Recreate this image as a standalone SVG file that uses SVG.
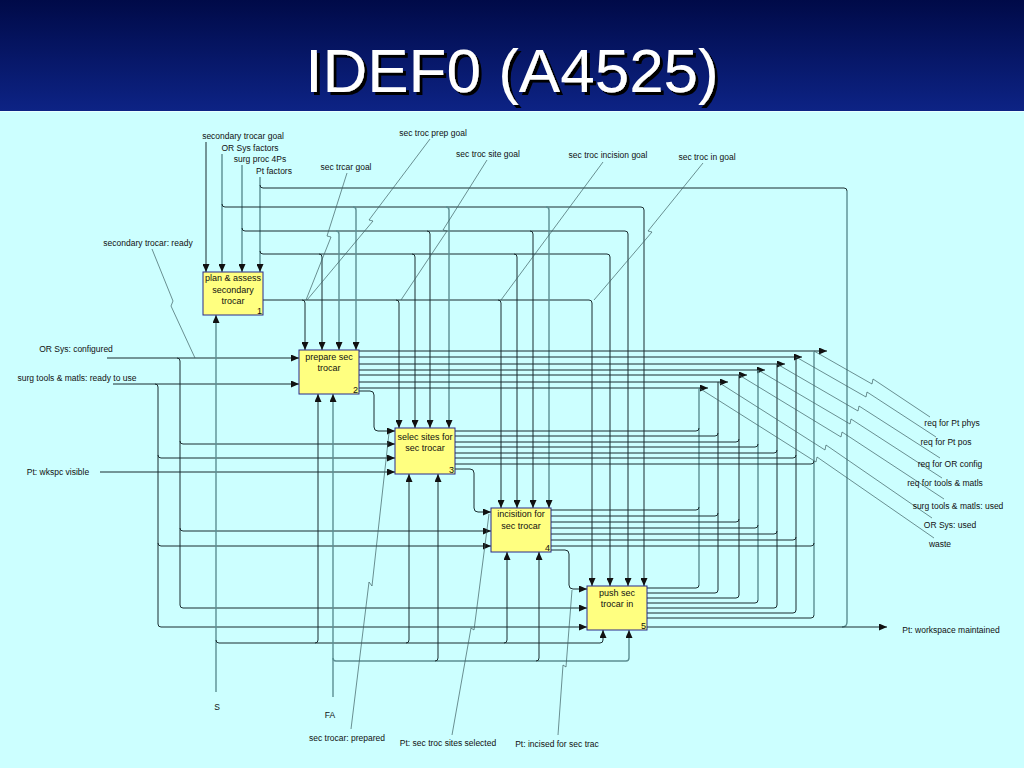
<svg xmlns="http://www.w3.org/2000/svg" width="1024" height="768" viewBox="0 0 1024 768">
<defs>
<linearGradient id="hdr" x1="0" y1="0" x2="0" y2="1">
<stop offset="0" stop-color="#000a48"/>
<stop offset="1" stop-color="#0d2385"/>
</linearGradient>
<filter id="sh" x="-10%" y="-20%" width="120%" height="150%">
<feDropShadow dx="3" dy="3" stdDeviation="0.6" flood-color="#000" flood-opacity="1"/>
</filter>
<marker id="ar" markerUnits="userSpaceOnUse" markerWidth="8" markerHeight="7" refX="8" refY="3.5" orient="auto">
<path d="M0,0 L8,3.5 L0,7 z" fill="#111"/>
</marker>
<style>
.t{font-family:"Liberation Sans",Arial,sans-serif;font-size:8.5px;fill:#111}
.tm{text-anchor:middle}
.bx{fill:#ffff80;stroke:#2a2a8a;stroke-width:1}
.bt{font-family:"Liberation Sans",Arial,sans-serif;font-size:9px;fill:#111;text-anchor:middle}
.bn{font-family:"Liberation Sans",Arial,sans-serif;font-size:9px;fill:#111;text-anchor:end}
.d{fill:none;stroke:#1b2d30;stroke-width:1}
.g{fill:none;stroke:#5b8e92;stroke-width:1.4}
.l{fill:none;stroke:#3d5f62;stroke-width:0.7}
.a{marker-end:url(#ar)}
</style>
</defs>
<rect x="0" y="0" width="1024" height="768" fill="#ccffff"/>
<rect x="0" y="0" width="1024" height="111" fill="url(#hdr)"/>
<line x1="0" y1="111.5" x2="1024" y2="111.5" stroke="#e8ffff" stroke-width="1"/>
<text x="512" y="92" font-family="'Liberation Sans',Arial,sans-serif" font-size="62" fill="#fff" text-anchor="middle" filter="url(#sh)">IDEF0 (A4525)</text>

<g id="connectors">
<path class="d a" d="M206,142 V272"/>
<path class="g a" d="M222,154 V272"/>
<path class="g a" d="M242,165 V272"/>
<path class="g a" d="M260,177 V272"/>
<path class="d" d="M260,185 Q260,188 263,188 H844 Q847,188 847,191"/>
<path class="g" d="M847,191 V622 Q847,627 842,627"/>
<path class="d a" d="M222,204 Q222,207 225,207 H641 Q644,207 644,210 V586"/>
<path class="d a" d="M242,228 Q242,231 245,231 H625 Q628,231 628,234 V586"/>
<path class="d a" d="M260,251 Q260,254 263,254 H607 Q610,254 610,257 V586"/>
<path class="d a" d="M263,300 H589 Q592,300 592,303 V586"/>
<path class="d a" d="M302,300 Q305,300 305,303 V350"/>
<path class="d a" d="M319,254 Q322,254 322,257 V350"/>
<path class="g a" d="M336,231 Q339,231 339,234 V350"/>
<path class="g a" d="M353,207 Q356,207 356,210 V350"/>
<path class="d a" d="M396,300 Q399,300 399,303 V428"/>
<path class="d a" d="M412,254 Q415,254 415,257 V428"/>
<path class="d a" d="M427,231 Q430,231 430,234 V428"/>
<path class="g a" d="M446,207 Q449,207 449,210 V428"/>
<path class="d a" d="M498,300 Q501,300 501,303 V508"/>
<path class="d a" d="M514,254 Q517,254 517,257 V508"/>
<path class="d a" d="M530,231 Q533,231 533,234 V508"/>
<path class="g a" d="M546,207 Q549,207 549,210 V508"/>

<path class="d a" d="M107,358 H299"/>
<path class="d a" d="M177,358 Q180,358 180,361 V605 Q180,608 183,608 H587"/>
<path class="d a" d="M180,441 Q180,444 183,444 H395"/>
<path class="d a" d="M180,528 Q180,531 183,531 H491"/>
<path class="d a" d="M113,384 H299"/>
<path class="d a" d="M155,384 Q158,384 158,387 V624 Q158,627 161,627 H587"/>
<path class="d a" d="M158,455 Q158,458 161,458 H395"/>
<path class="d a" d="M158,543 Q158,546 161,546 H491"/>
<path class="d a" d="M100,472 H395"/>

<path class="d a" d="M359,391 H370 Q374,391 374,395 V427 Q374,431 378,431 H395"/>
<path class="d a" d="M455,469 H470 Q474,469 474,473 V508 Q474,512 478,512 H491"/>
<path class="d a" d="M551,550 H565 Q569,550 569,554 V585 Q569,589 573,589 H587"/>

<path class="g a" d="M216,692 V315"/>
<path class="d a" d="M216,640 Q216,643 219,643 H600 Q603,643 603,640 V630"/>
<path class="d a" d="M315,643 Q318,643 318,640 V394"/>
<path class="d a" d="M406,643 Q409,643 409,640 V474"/>
<path class="d a" d="M504,643 Q507,643 507,640 V552"/>
<path class="g a" d="M333,697 V394"/>
<path class="g a" d="M333,658 Q333,661 336,661 H626 Q629,661 629,658 V630"/>
<path class="d a" d="M435,661 Q438,661 438,658 V474"/>
<path class="d a" d="M536,661 Q539,661 539,658 V552"/>

<path class="d a" d="M359,351 H827"/>
<path class="d a" d="M359,357 H802"/>
<path class="d a" d="M359,364 H785"/>
<path class="d a" d="M359,370 H765"/>
<path class="d a" d="M359,375 H747"/>
<path class="d a" d="M359,382 H728"/>
<path class="d a" d="M359,388 H708"/>
<path class="g" d="M699,388 V585"/>
<path class="d" d="M718,382 V590"/>
<path class="d" d="M739,375 V595"/>
<path class="g" d="M758,370 V600"/>
<path class="d" d="M777,364 V605"/>
<path class="d" d="M796,357 V610"/>
<path class="g" d="M814,351 V615"/>
<path class="d" d="M455,431 H696 Q699,431 699,428"/>
<path class="d" d="M455,436 H715 Q718,436 718,433"/>
<path class="d" d="M455,442 H736 Q739,442 739,439"/>
<path class="d" d="M455,447 H755 Q758,447 758,444"/>
<path class="d" d="M455,453 H774 Q777,453 777,450"/>
<path class="d" d="M455,458 H793 Q796,458 796,455"/>
<path class="d" d="M455,464 H811 Q814,464 814,461"/>
<path class="d" d="M551,510 H696 Q699,510 699,507"/>
<path class="d" d="M551,516 H715 Q718,516 718,513"/>
<path class="d" d="M551,522 H736 Q739,522 739,519"/>
<path class="d" d="M551,528 H755 Q758,528 758,525"/>
<path class="d" d="M551,534 H774 Q777,534 777,531"/>
<path class="d" d="M551,540 H793 Q796,540 796,537"/>
<path class="d" d="M551,546 H811 Q814,546 814,543"/>
<path class="d" d="M647,588 H696 Q699,588 699,585"/>
<path class="d" d="M647,593 H715 Q718,593 718,590"/>
<path class="d" d="M647,598 H736 Q739,598 739,595"/>
<path class="d" d="M647,603 H755 Q758,603 758,600"/>
<path class="d" d="M647,608 H774 Q777,608 777,605"/>
<path class="d" d="M647,613 H793 Q796,613 796,610"/>
<path class="d" d="M647,618 H811 Q814,618 814,615"/>
<path class="d a" d="M647,627 H887"/>

<path class="l" d="M152,249 L173,301 L171,306 L195,358"/>
<path class="l" d="M347,173 L327,236 L331,237 L306,300"/>
<path class="l" d="M430,139 L369,220 L373,221 L307,300"/>
<path class="l" d="M487,160 L443,230 L447,231 L401,300"/>
<path class="l" d="M603,162 L501,300"/>
<path class="l" d="M703,163 L648,231 L652,232 L594,300"/>
<path class="l" d="M814,351 L872,384 L873,379 L930,417"/>
<path class="l" d="M796,357 L866,397 L867,392 L936,437"/>
<path class="l" d="M777,364 L858,411 L859,406 L940,458"/>
<path class="l" d="M758,370 L850,424 L851,419 L942,478"/>
<path class="l" d="M739,375 L841,437 L842,432 L944,499"/>
<path class="l" d="M718,382 L825,450 L826,445 L932,518"/>
<path class="l" d="M699,388 L816,462 L817,457 L934,538"/>
<path class="l" d="M351,729 L369,582 L372,586 L389,433"/>
<path class="l" d="M452,735 L471,628 L474,630 L489,514"/>
<path class="l" d="M558,735 L563,665 L566,667 L572,590"/>
</g>

<g id="node1">
<rect class="bx" x="203" y="272" width="60" height="43"/>
<text class="bt" x="233" y="281">plan &amp; assess</text>
<text class="bt" x="233" y="293">secondary</text>
<text class="bt" x="233" y="304">trocar</text>
<text class="bn" x="262" y="314">1</text>
</g>
<g id="node2">
<rect class="bx" x="299" y="350" width="60" height="44"/>
<text class="bt" x="329" y="360">prepare sec</text>
<text class="bt" x="329" y="371">trocar</text>
<text class="bn" x="358" y="393">2</text>
</g>
<g id="node3">
<rect class="bx" x="395" y="428" width="60" height="46"/>
<text class="bt" x="425" y="440">selec sites for</text>
<text class="bt" x="425" y="451">sec trocar</text>
<text class="bn" x="454" y="473">3</text>
</g>
<g id="node4">
<rect class="bx" x="491" y="508" width="60" height="44"/>
<text class="bt" x="521" y="517">incisition for</text>
<text class="bt" x="521" y="529">sec trocar</text>
<text class="bn" x="550" y="551">4</text>
</g>
<g id="node5">
<rect class="bx" x="587" y="586" width="60" height="44"/>
<text class="bt" x="617" y="596">push sec</text>
<text class="bt" x="617" y="607">trocar in</text>
<text class="bn" x="646" y="629">5</text>
</g>

<g id="labels">
<text class="t tm" x="243" y="139">secondary trocar goal</text>
<text class="t tm" x="250" y="151">OR Sys factors</text>
<text class="t tm" x="260" y="162">surg proc 4Ps</text>
<text class="t tm" x="274" y="174">Pt factors</text>
<text class="t tm" x="346" y="170">sec trcar goal</text>
<text class="t tm" x="433" y="136">sec troc prep goal</text>
<text class="t tm" x="488" y="157">sec troc site goal</text>
<text class="t tm" x="608" y="158">sec troc incision goal</text>
<text class="t tm" x="707" y="160">sec troc in goal</text>
<text class="t tm" x="148" y="246">secondary trocar: ready</text>
<text class="t tm" x="76" y="352">OR Sys: configured</text>
<text class="t tm" x="77" y="381">surg tools &amp; matls: ready to use</text>
<text class="t tm" x="58" y="475">Pt: wkspc visible</text>
<text class="t tm" x="217" y="710">S</text>
<text class="t tm" x="330" y="718">FA</text>
<text class="t tm" x="347" y="741">sec trocar: prepared</text>
<text class="t tm" x="448" y="746">Pt: sec troc sites selected</text>
<text class="t tm" x="557" y="747">Pt: incised for sec trac</text>
<text class="t tm" x="951" y="633">Pt: workspace maintained</text>
<text class="t tm" x="952" y="426">req for Pt phys</text>
<text class="t tm" x="946" y="445">req for Pt pos</text>
<text class="t tm" x="950" y="467">req for OR config</text>
<text class="t tm" x="945" y="486">req for tools &amp; matls</text>
<text class="t tm" x="958" y="509">surg tools &amp; matls: used</text>
<text class="t tm" x="950" y="528">OR Sys: used</text>
<text class="t tm" x="940" y="547">waste</text>
</g>
</svg>
